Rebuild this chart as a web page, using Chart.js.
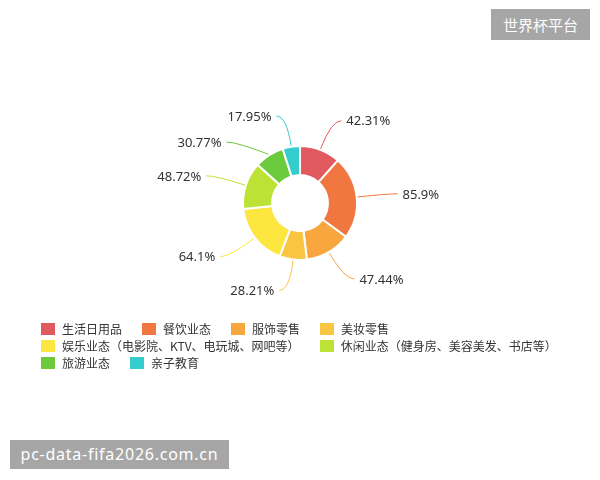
<!DOCTYPE html>
<html>
<head>
<meta charset="utf-8">
<script src="https://cdn.jsdelivr.net/npm/chart.js@4"></script>
<style>
  body { margin: 0; background: #fff; font-family: "Noto Sans CJK SC", "Noto Sans", sans-serif; }
  #wrap { position: relative; width: 600px; height: 480px; overflow: hidden; }
  #chart { position: absolute; left: 0; top: 0; }
  .badge { position: absolute; background: #a6a6a6; color: #fff; text-align: center; }
  #title { left: 491px; top: 9px; width: 99px; height: 31px; line-height: 31px; font-size: 15px; }
  #mark { left: 10px; top: 440px; width: 219px; height: 29px; line-height: 29px; font-size: 16px; letter-spacing: 0.75px; font-family: "Noto Sans", sans-serif; }
  #legend { position: absolute; left: 41px; top: 320px; width: 560px; display: flex; flex-wrap: wrap; }
  .item { display: flex; align-items: center; height: 17px; margin-right: 20px; font-size: 12px; color: #333; white-space: nowrap; text-spacing-trim: space-all; }
  .swatch { width: 14px; height: 12px; margin-right: 7px; }
</style>
</head>
<body>
<div id="wrap">
  <canvas id="chart" width="600" height="480"></canvas>
  <div id="title" class="badge">世界杯平台</div>
  <div id="legend"></div>
  <div id="mark" class="badge">pc-data-fifa2026.com.cn</div>
</div>
<script>
// Chart data
const categories = [
  "生活日用品",
  "餐饮业态",
  "服饰零售",
  "美妆零售",
  "娱乐业态（电影院、KTV、电玩城、网吧等）",
  "休闲业态（健身房、美容美发、书店等）",
  "旅游业态",
  "亲子教育",
];
const values = [42.31, 85.9, 47.44, 28.21, 64.1, 48.72, 30.77, 17.95];
const colors = [
  "#e15a60",
  "#f0773f",
  "#f9a63f",
  "#fac543",
  "#fde63f",
  "#bce236",
  "#6cca3d",
  "#34cccc",
];

// Leader lines + value labels (labels on one side are pushed apart if too close)
const labelLines = {
  id: "labelLines",
  afterDatasetsDraw(chart) {
    const ctx = chart.ctx;
    const meta = chart.getDatasetMeta(0);
    const len1 = 31;
    const len2 = 10;
    const minGap = 26;

    const items = meta.data.map((arc, i) => {
      const { x, y, startAngle, endAngle, outerRadius } = arc.getProps(
        ["x", "y", "startAngle", "endAngle", "outerRadius"],
        true
      );
      const mid = (startAngle + endAngle) / 2;
      const cos = Math.cos(mid);
      const sin = Math.sin(mid);
      const r1 = outerRadius + len1;
      return {
        i,
        cx: x,
        cy: y,
        r1,
        dir: cos >= 0 ? 1 : -1,
        p0: { x: x + cos * (outerRadius + 1), y: y + sin * (outerRadius + 1) },
        p1: { x: x + cos * r1, y: y + sin * r1 },
      };
    });

    [1, -1].forEach((side) => {
      const list = items.filter((it) => it.dir === side).sort((a, b) => a.p1.y - b.p1.y);
      for (let k = 1; k < list.length; k++) {
        const prev = list[k - 1];
        const cur = list[k];
        if (cur.p1.y < prev.p1.y + minGap) {
          cur.p1.y = prev.p1.y + minGap;
          const dy = cur.p1.y - cur.cy;
          cur.p1.x = cur.cx + side * Math.sqrt(Math.max(0, cur.r1 * cur.r1 - dy * dy));
        }
      }
    });

    ctx.save();
    ctx.font = '13px "Noto Sans", sans-serif';
    ctx.textBaseline = "middle";
    items.forEach((it) => {
      const p2 = { x: it.p1.x + it.dir * len2, y: it.p1.y };
      ctx.strokeStyle = colors[it.i];
      ctx.lineWidth = 1;
      ctx.beginPath();
      ctx.moveTo(it.p0.x, it.p0.y);
      ctx.quadraticCurveTo(it.p1.x, it.p1.y, p2.x, p2.y);
      ctx.stroke();

      ctx.fillStyle = "#333";
      ctx.textAlign = it.dir > 0 ? "left" : "right";
      ctx.fillText(values[it.i] + "%", p2.x + it.dir * 5, p2.y + 1);
    });
    ctx.restore();
  },
};

new Chart(document.getElementById("chart"), {
  type: "doughnut",
  data: {
    labels: categories,
    datasets: [
      {
        data: values,
        backgroundColor: colors,
        borderColor: "#fff",
        borderWidth: 2,
      },
    ],
  },
  options: {
    responsive: false,
    animation: false,
    radius: 57,
    cutout: "49%",
    layout: { padding: { top: 100, bottom: 174, left: 100, right: 100 } },
    plugins: {
      legend: { display: false },
      tooltip: { enabled: false },
    },
  },
  plugins: [labelLines],
});

// Legend built from the same arrays
const legend = document.getElementById("legend");
categories.forEach((name, i) => {
  const item = document.createElement("div");
  item.className = "item";
  item.innerHTML = `<span class="swatch" style="background:${colors[i]}"></span>${name}`;
  legend.appendChild(item);
});
</script>
</body>
</html>
